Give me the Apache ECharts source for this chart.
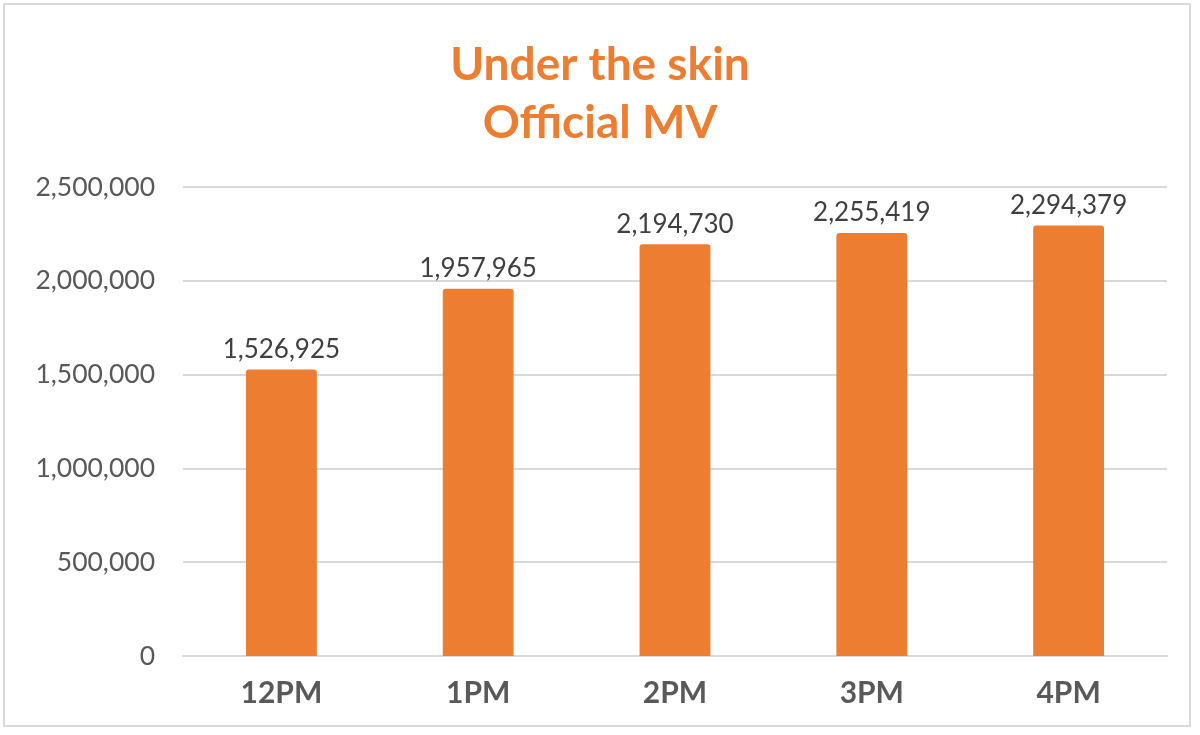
<!DOCTYPE html>
<html>
<head>
<meta charset="utf-8">
<script src="https://cdn.jsdelivr.net/npm/echarts@6/dist/echarts.min.js"></script>
<style>
  html, body { margin: 0; padding: 0; background: #fff; }
  #frame { position: absolute; left: 3px; top: 3px; width: 1188px; height: 724px; border: 2px solid #d9d9d9; box-sizing: border-box; }
  #chart { width: 1200px; height: 735px; }
</style>
</head>
<body>
<div id="chart"></div>
<div id="frame"></div>
<script>
const hours = ['12PM', '1PM', '2PM', '3PM', '4PM']
const views = [1526925, 1957965, 2194730, 2255419, 2294379]
const ORANGE = '#ED7D31'

const chart = echarts.init(document.getElementById('chart'))
const fmt = (v) => v.toLocaleString('en-US')

chart.setOption({
  animation: false,
  textStyle: { fontFamily: 'Lato' },
  title: {
    text: 'Under the skin\nOfficial MV',
    left: 'center',
    top: 31,
    textStyle: { color: ORANGE, fontSize: 46, fontWeight: 'bold', lineHeight: 58, fontFamily: 'Lato' }
  },
  grid: { left: 183, right: 33, top: 187, bottom: 79 },
  xAxis: {
    type: 'category',
    data: hours,
    axisLine: { lineStyle: { color: '#d9d9d9', width: 2 } },
    axisTick: { show: false },
    axisLabel: { color: '#595959', fontSize: 30, fontWeight: 'bold', margin: 22 }
  },
  yAxis: {
    type: 'value',
    min: 0,
    max: 2500000,
    interval: 500000,
    axisLine: { show: false },
    axisTick: { show: false },
    axisLabel: { color: '#595959', fontSize: 26.5, margin: 28, formatter: fmt },
    splitLine: { lineStyle: { color: '#d9d9d9', width: 2 } }
  },
  series: [{
    type: 'bar',
    data: views,
    barWidth: '36%',
    itemStyle: { color: ORANGE, borderRadius: [3, 3, 0, 0] },
    label: {
      show: true,
      position: 'top',
      distance: 7,
      color: '#404040',
      fontSize: 26,
      formatter: (p) => fmt(p.value)
    }
  }]
})
</script>
</body>
</html>
